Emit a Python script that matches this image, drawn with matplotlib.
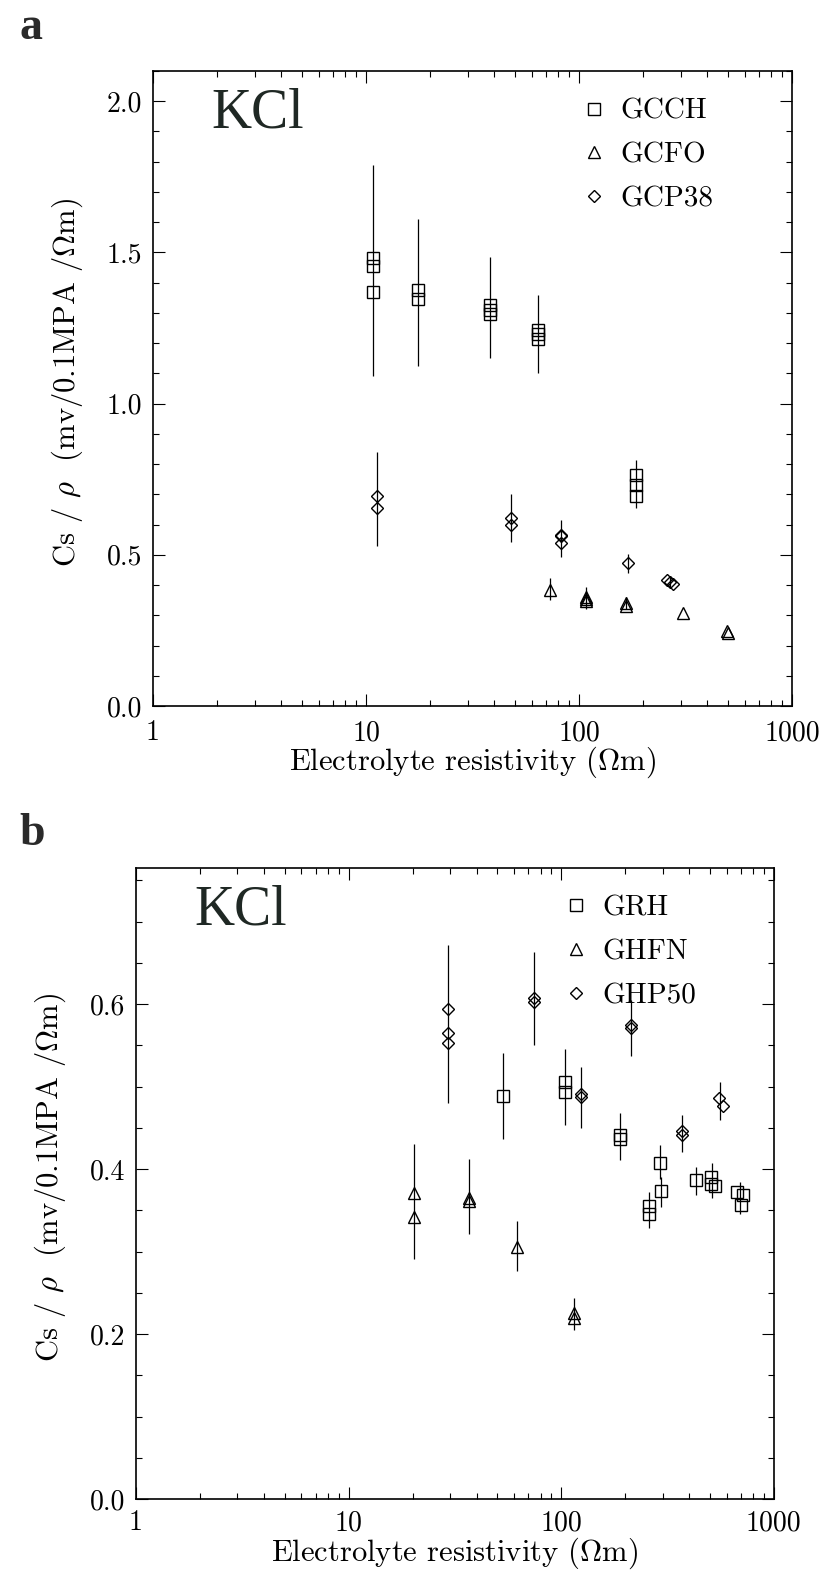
import matplotlib
matplotlib.use('Agg')
import matplotlib.pyplot as plt
from matplotlib.ticker import (LogLocator, FixedLocator, MultipleLocator,
                               FuncFormatter, NullFormatter)

# ---- panel a : GCCH / GCFO / GCP38 ----
gcch_x = [10.8, 10.8, 10.8, 17.5, 17.5, 38, 38, 38, 64, 64, 64, 186, 186, 186]
gcch_y = [1.48, 1.455, 1.37, 1.375, 1.345, 1.325, 1.31, 1.295, 1.245, 1.23, 1.215, 0.764, 0.731, 0.694]
gcch_err_x = [10.8, 17.5, 38, 64, 186]
gcch_err_lo = [1.09, 1.125, 1.15, 1.10, 0.656]
gcch_err_hi = [1.79, 1.61, 1.485, 1.36, 0.815]

gcfo_x = [73, 108, 108, 108, 167, 167, 307, 497, 500]
gcfo_y = [0.383, 0.362, 0.354, 0.346, 0.34, 0.33, 0.307, 0.247, 0.242]
gcfo_err_x = [73, 108, 167]
gcfo_err_lo = [0.352, 0.321, 0.322]
gcfo_err_hi = [0.422, 0.393, 0.36]

gcp38_x = [11.3, 11.3, 48, 48, 82, 82, 82, 169, 258, 268, 275]
gcp38_y = [0.694, 0.655, 0.622, 0.60, 0.567, 0.562, 0.54, 0.4715, 0.418, 0.41, 0.404]
gcp38_err_x = [11.3, 48, 82, 169, 266]
gcp38_err_lo = [0.53, 0.544, 0.492, 0.44, 0.395]
gcp38_err_hi = [0.84, 0.70, 0.614, 0.504, 0.43]

# ---- panel b : GRH / GHFN / GHP50 ----
grh_x = [53.4, 104.4, 104.4, 189, 189, 291, 294, 259, 259, 432, 508, 508, 532, 670, 702, 718]
grh_y = [0.489, 0.505, 0.493, 0.441, 0.437, 0.4075, 0.373, 0.355, 0.345, 0.387,
         0.390, 0.382, 0.379, 0.372, 0.357, 0.369]
grh_err_x = [53.4, 104.4, 189, 291, 294, 259, 432, 515, 695]
grh_err_lo = [0.437, 0.454, 0.411, 0.388, 0.3535, 0.329, 0.369, 0.365, 0.345]
grh_err_hi = [0.541, 0.545, 0.468, 0.4286, 0.390, 0.372, 0.403, 0.407, 0.384]

ghfn_x = [20.4, 20.4, 37, 37, 62, 114.6, 114.6]
ghfn_y = [0.371, 0.3416, 0.365, 0.361, 0.305, 0.2255, 0.2195]
ghfn_err_x = [20.4, 37, 62, 114.6]
ghfn_err_lo = [0.291, 0.321, 0.277, 0.205]
ghfn_err_hi = [0.431, 0.412, 0.337, 0.2437]

ghp50_x = [29.3, 29.3, 29.3, 74.4, 74.4, 212, 212, 124.6, 124.6, 372, 372, 555, 575]
ghp50_y = [0.594, 0.565, 0.553, 0.607, 0.603, 0.575, 0.571, 0.491, 0.487, 0.4456, 0.441, 0.486, 0.476]
ghp50_err_x = [29.3, 74.4, 212, 124.6, 372, 561]
ghp50_err_lo = [0.480, 0.551, 0.537, 0.45, 0.421, 0.459]
ghp50_err_hi = [0.672, 0.663, 0.605, 0.524, 0.466, 0.506]

x_ticks = [1, 10, 100, 1000]

plt.rcParams['font.family'] = 'cmr10'
plt.rcParams['mathtext.fontset'] = 'cm'
plt.rcParams['axes.formatter.use_mathtext'] = True


def draw_series(ax, x, y, ex, lo, hi, marker, ms, label):
    ax.vlines(ex, lo, hi, color='black', linewidth=0.9)
    ax.plot(x, y, linestyle='none', marker=marker, markersize=ms,
            markerfacecolor='none', markeredgecolor='black',
            markeredgewidth=1.0, label=label)


def style_axes(ax, ymax, ymajor, yminor, xpad):
    ax.set_xscale('log')
    ax.set_xlim(1, 1000)
    ax.set_ylim(0, ymax)
    ax.xaxis.set_major_locator(FixedLocator(x_ticks))
    ax.xaxis.set_major_formatter(FuncFormatter(lambda v, p: '%d' % round(v)))
    ax.xaxis.set_minor_locator(LogLocator(base=10, subs=range(2, 10)))
    ax.xaxis.set_minor_formatter(NullFormatter())
    ax.yaxis.set_major_locator(MultipleLocator(ymajor))
    ax.yaxis.set_minor_locator(MultipleLocator(yminor))
    ax.yaxis.set_major_formatter(FuncFormatter(lambda v, p: '%.1f' % v))
    ax.tick_params(which='both', direction='in', top=True, right=True, width=0.8)
    ax.tick_params(which='major', length=8.5, labelsize=20)
    ax.tick_params(axis='x', which='major', pad=xpad)
    ax.tick_params(axis='y', which='major', pad=8)
    ax.tick_params(which='minor', length=4)
    for s in ax.spines.values():
        s.set_linewidth(1.2)
    ax.set_xlabel('Electrolyte resistivity ($\\Omega$m)', fontsize=22, labelpad=-1)
    ax.set_ylabel('Cs / $\\rho$  (mv/0.1MPA /$\\Omega$m)', fontsize=22)
    ax.yaxis.set_label_coords(-0.106, 0.51)
    ax.text(0.092, 0.911, 'KCl', transform=ax.transAxes, fontsize=40,
            family='Liberation Serif', color='#1f2824', ha='left', va='baseline')
    ax.legend(loc='upper left', bbox_to_anchor=(0.672, 0.957), frameon=False,
              fontsize=21, handlelength=0.8, handletextpad=0.5,
              labelspacing=0.6, borderpad=0, borderaxespad=0)


fig = plt.figure(figsize=(8.24, 15.71), dpi=100)
ax_a = fig.add_axes([0.1857, 0.5506, 0.7755, 0.4042])
ax_b = fig.add_axes([0.165, 0.0458, 0.774, 0.4017])

draw_series(ax_a, gcch_x, gcch_y, gcch_err_x, gcch_err_lo, gcch_err_hi, 's', 8.5, 'GCCH')
draw_series(ax_a, gcfo_x, gcfo_y, gcfo_err_x, gcfo_err_lo, gcfo_err_hi, '^', 9, 'GCFO')
draw_series(ax_a, gcp38_x, gcp38_y, gcp38_err_x, gcp38_err_lo, gcp38_err_hi, 'D', 6, 'GCP38')
style_axes(ax_a, 2.1, 0.5, 0.1, 10)

draw_series(ax_b, grh_x, grh_y, grh_err_x, grh_err_lo, grh_err_hi, 's', 8.5, 'GRH')
draw_series(ax_b, ghfn_x, ghfn_y, ghfn_err_x, ghfn_err_lo, ghfn_err_hi, '^', 9, 'GHFN')
draw_series(ax_b, ghp50_x, ghp50_y, ghp50_err_x, ghp50_err_lo, ghp50_err_hi, 'D', 6, 'GHP50')
style_axes(ax_b, 0.765, 0.2, 0.05, 8)

fig.text(0.024, 0.9752, 'a', fontsize=33, fontweight='bold',
         family='Liberation Serif', color='#2a2a2a', va='baseline')
fig.text(0.024, 0.4621, 'b', fontsize=33, fontweight='bold',
         family='Liberation Serif', color='#2a2a2a', va='baseline')

fig.savefig('out.png', dpi=100)
